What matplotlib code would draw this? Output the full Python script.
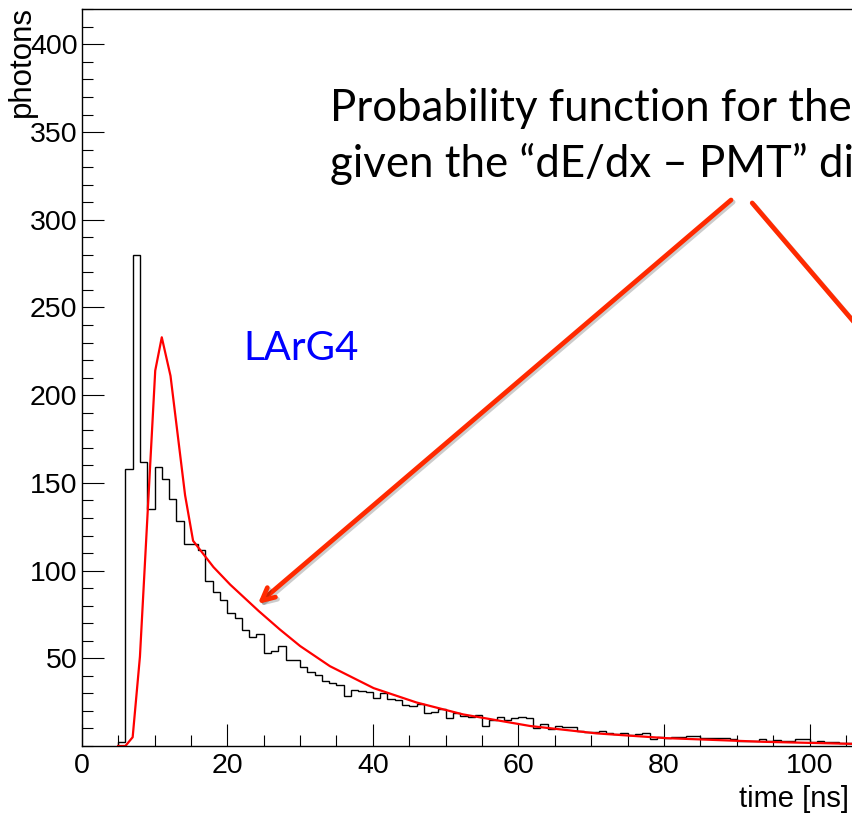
import matplotlib
matplotlib.use('Agg')
import matplotlib.pyplot as plt
import matplotlib.patheffects as pe
from matplotlib.ticker import MultipleLocator, FixedLocator
import numpy as np

# histogram: 1 ns bins starting at 5 ns
bin_start = 5
counts = [2, 158, 280, 162, 135, 159, 152, 141, 128, 115,
          115, 112, 94, 88, 83, 76, 73, 66, 62, 64,
          53, 54, 57, 49, 49, 45, 42, 40.5, 37, 36,
          35, 28.5, 32, 31.5, 31, 27.2, 30, 26.6, 26.2, 23.4,
          23, 23.8, 18.6, 19.6, 21, 16.1, 19, 17.1, 16.7, 17.7,
          11.4, 14.8, 16.7, 14.8, 15.8, 16.4, 15.8, 10.1, 12.4, 9.7,
          11.2, 11, 11, 8.7, 8.2, 7.8, 8.4, 7.2, 6.8, 7.6,
          6.4, 7, 7.2, 3.8, 4.9, 4.4, 5.3, 5.3, 5.7, 5.9,
          4.4, 4.4, 4.4, 4.4, 3.8, 3, 2.7, 2.7, 4, 3,
          3.2, 2.7, 2.7, 3.8, 3.8, 2.5, 3, 2, 2, 1.5,
          1.8]

# probability function (red curve)
curve_t = [5.0, 6.0, 7.0, 8.0, 10.1, 11.0, 12.2, 14.2, 15.3, 18.1,
           20.4, 24.3, 27.2, 30.0, 34.1, 40.1, 46.0, 52.4, 61.6, 70.7,
           80.2, 93.6, 106.0]
curve_y = [0, 0, 5, 51, 214, 233, 211, 143, 117, 102,
           92, 77, 66.5, 57, 45.5, 33, 24.8, 18, 11.4, 7.2,
           4.5, 2.4, 1.2]

y_ticks = [50, 100, 150, 200, 250, 300, 350, 400]
x_ticks = [0, 20, 40, 60, 80, 100, 120]

tick_font = 'Liberation Sans'
note_font = ['Lato', 'DejaVu Sans']

fig = plt.figure(figsize=(8.52, 8.13), dpi=100)
ax = fig.add_axes([81.7 / 852, 67 / 813, 873.6 / 852, 736.7 / 813])

edges = np.arange(bin_start, bin_start + len(counts) + 1)
ax.stairs(counts, edges, color='black', lw=1.0)
ax.plot(curve_t, curve_y, color='red', lw=1.6)

ax.set_xlim(0, 120)
ax.set_ylim(0, 420)
ax.xaxis.set_major_locator(FixedLocator(x_ticks))
ax.xaxis.set_minor_locator(MultipleLocator(5))
ax.yaxis.set_major_locator(FixedLocator(y_ticks))
ax.yaxis.set_minor_locator(MultipleLocator(10))
ax.tick_params(which='both', direction='in', top=False, right=False, width=0.8)
ax.tick_params(which='major', length=16)
ax.tick_params(which='minor', length=8)
ax.tick_params(axis='x', pad=5)
ax.tick_params(axis='y', pad=3)
for lab in ax.get_xticklabels() + ax.get_yticklabels():
    lab.set_fontfamily(tick_font)
    lab.set_fontsize(20.5)
for s in ax.spines.values():
    s.set_linewidth(1.0)

fig.text(22 / 852, 1 - 6 / 813, 'photons', rotation=90, ha='center', va='top',
         fontsize=22.5, family=tick_font)
fig.text(849 / 852, 1 - 806.7 / 813, 'time [ns]', ha='right', va='baseline',
         fontsize=21, family=tick_font)

# overlay annotation
ax.text(34.1, 356.5, 'Probability function for the', fontsize=31.5, family=note_font,
        va='baseline', clip_on=False)
ax.text(34.1, 324.6, 'given the \u201cdE/dx \u2013 PMT\u201d distribution', fontsize=31.5,
        family=note_font, va='baseline', clip_on=False)
ax.text(22.2, 220, 'LArG4', fontsize=29, family=note_font, color='#0000ff', va='baseline')

arrow_col = '#ff2a00'
shadow = [pe.SimpleLineShadow(offset=(1.5, -1.5), alpha=0.2), pe.Normal()]
ax.annotate('', xy=(24.2, 81), xytext=(89.2, 311.3),
            arrowprops=dict(arrowstyle='->,head_length=0.9,head_width=0.45', color=arrow_col,
                            lw=3.4, shrinkA=0, shrinkB=0, path_effects=shadow),
            annotation_clip=False)
ax.annotate('', xy=(112.4, 211), xytext=(92.1, 309.6),
            arrowprops=dict(arrowstyle='-', color=arrow_col, lw=3.4, shrinkA=0, shrinkB=0,
                            path_effects=shadow),
            annotation_clip=False)

fig.savefig('out.png', dpi=100)
